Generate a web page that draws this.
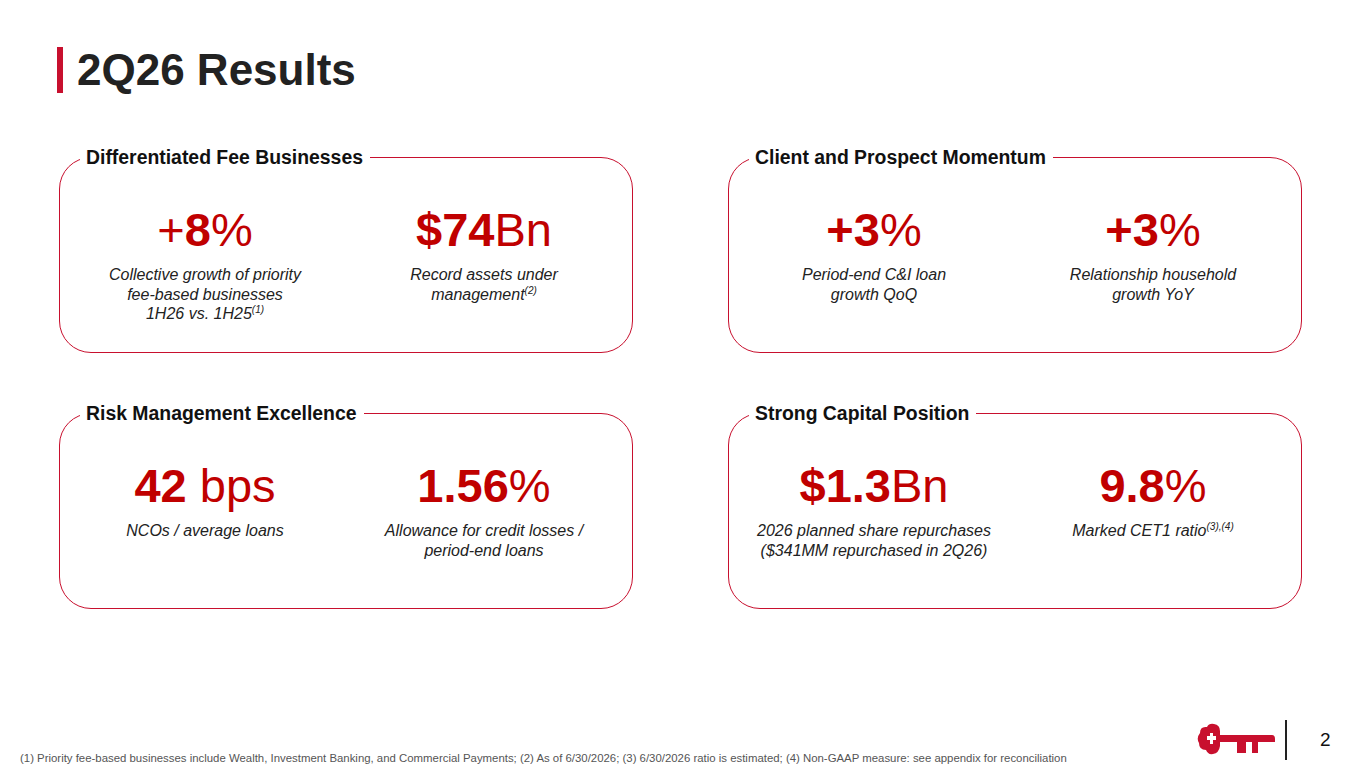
<!DOCTYPE html>
<html><head><meta charset="utf-8">
<script src="https://cdn.jsdelivr.net/npm/chart.js@4"></script>
<style>
body{margin:0;width:1365px;height:768px;background:#fff;font-family:Arial,"Liberation Sans",sans-serif;position:relative;overflow:hidden}
.bar{position:absolute;left:57px;top:47px;width:6px;height:46px;background:#c8102e}
h1{position:absolute;left:77px;top:43px;margin:0;font-size:44px;font-weight:bold;color:#222;line-height:54px}
.box{position:absolute;width:574px;height:196px;border:1.6px solid #c8102e;border-radius:32px;box-sizing:border-box}
.ttl{position:absolute;top:-14px;left:20px;background:#fff;padding:0 7px 0 6px;font-weight:bold;font-size:19.4px;color:#111;line-height:26px}
.col{position:absolute;top:44px;width:280px;text-align:center}
.val{font-size:47px;color:#c00000;line-height:56px}
.val b{font-weight:bold}
.desc{margin-top:7px;font-size:16px;font-style:italic;color:#222;line-height:19.5px}
.desc sup{font-size:10px;line-height:0}
.foot{position:absolute;left:20px;top:752px;font-size:11.4px;color:#555}
.vl{position:absolute;left:1285px;top:720px;width:1.5px;height:40px;background:#222}
.pg{position:absolute;left:1320px;top:729px;font-size:19px;color:#111}
</style></head><body>
<div class="bar"></div><h1>2Q26 Results</h1>
<div id="boxes"></div>
<div class="foot">(1) Priority fee-based businesses include Wealth, Investment Banking, and Commercial Payments; (2) As of 6/30/2026; (3) 6/30/2026 ratio is estimated; (4) Non-GAAP measure: see appendix for reconciliation</div>
<svg style="position:absolute;left:1196px;top:723px" width="80" height="38" viewBox="0 0 80 38">
<g fill="#c8102e">
<path d="M4 10 Q4 3 11 4 Q13 0 18 1 Q24 2 24 8 L24 12 L76 12 Q79 12 79 16 L79 19 L62 19 L62 30 L56 30 L56 19 L50 19 L50 30 L41 30 L41 19 L24 19 L24 23 Q23 30 17 31 Q12 32 10 27 Q3 27 3 20 Q0 15 4 10Z"/>
</g>
<path d="M11 13 L14 13 L14 10 L17 10 L17 13 L20 13 L20 17 L17 17 L17 21 L14 21 L14 17 L11 17Z" fill="#fff"/>
</svg>
<div class="vl"></div><div class="pg">2</div>
<script>
// section titles, box positions come from layout below
var titulos = ["Differentiated Fee Businesses", "Client and Prospect Momentum", "Risk Management Excellence", "Strong Capital Position"];
// each value split in [prefix, bold part, suffix]
var valores = [
  [["+", "8", "%"], ["$", "74", "Bn"]],
  [["+", "3", "%"], ["+", "3", "%"]],
  [["", "42", " bps"], ["", "1.56", "%"]],
  [["$", "1.3", "Bn"], ["", "9.8", "%"]]
];
var boldPrefix = [[false, true], [true, true], [false, false], [true, false]];
var descricoes = [
  ["Collective growth of priority<br>fee-based businesses<br>1H26 vs. 1H25<sup>(1)</sup>", "Record assets under<br>management<sup>(2)</sup>"],
  ["Period-end C&amp;I loan<br>growth QoQ", "Relationship household<br>growth YoY"],
  ["NCOs / average loans", "Allowance for credit losses /<br>period-end loans"],
  ["2026 planned share repurchases<br>($341MM repurchased in 2Q26)", "Marked CET1 ratio<sup>(3),(4)</sup>"]
];
var posX = [59, 728], posY = [157, 413];
var html = "";
for (let i = 0; i < titulos.length; i++) {
  var x = posX[i % 2], y = posY[Math.floor(i / 2)];
  html += '<div class="box" style="left:' + x + 'px;top:' + y + 'px"><div class="ttl">' + titulos[i] + '</div>';
  for (let j = 0; j < 2; j++) {
    var v = valores[i][j];
    var pre = boldPrefix[i][j] ? '<b>' + v[0] + '</b>' : v[0];
    html += '<div class="col" style="left:' + (j == 0 ? 5 : 284) + 'px"><div class="val">' + pre + '<b>' + v[1] + '</b>' + v[2] + '</div><div class="desc">' + descricoes[i][j] + '</div></div>';
  }
  html += '</div>';
}
document.getElementById("boxes").innerHTML = html;
</script>
</body></html>
